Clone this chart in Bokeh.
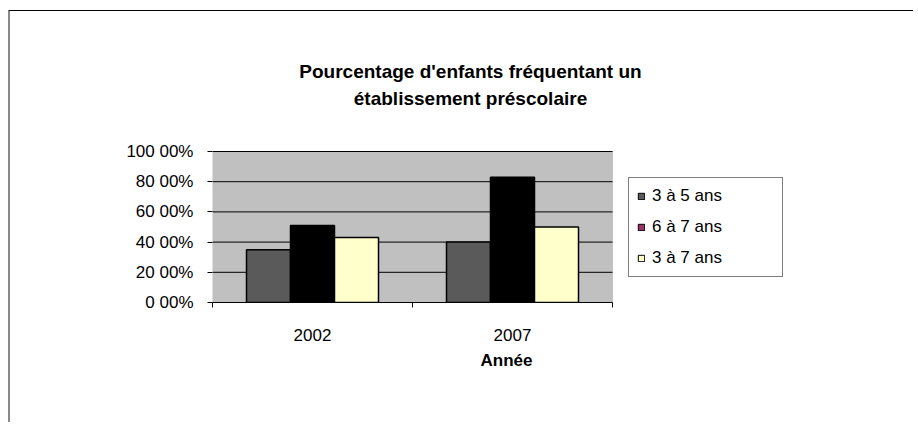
from bokeh.plotting import figure
from bokeh.models import Range1d, FixedTicker, Legend, LegendItem, Label, BoxAnnotation
from bokeh.embed import file_html
from bokeh.resources import INLINE

# ---- data ----
years = ["2002", "2007"]
series = ["3 à 5 ans", "6 à 7 ans", "3 à 7 ans"]
v_3_5 = [35, 40]
v_6_7 = [51, 83]
v_3_7 = [43, 50]
values = [v_3_5, v_6_7, v_3_7]
bar_colors = ["#5A5A5A", "#000000", "#FFFFCC"]
legend_colors = ["#5A5A5A", "#993366", "#FFFFCC"]
y_ticks = [0, 20, 40, 60, 80, 100]
y_tick_labels = ["0 00%", "20 00%", "40 00%", "60 00%", "80 00%", "100 00%"]
title_lines = ["Pourcentage d'enfants fréquentant un", "établissement préscolaire"]

FONT = "Liberation Sans"
FS = "17px"

# ---- layout (pixels) ----
W, H = 905, 412
LEFT, TOP = 202, 44
PLOT_W, PLOT_H = 400, 151          # grey plot area
FRAME_W, FRAME_H = 588, 247        # frame also holds title + legend
n = len(years)
y_max = max(y_ticks)
x_end = n * FRAME_W / PLOT_W
y_end = y_max * FRAME_H / PLOT_H

p = figure(width=W, height=H, output_backend="svg", toolbar_location=None,
           x_range=Range1d(0, x_end), y_range=Range1d(0, y_end),
           min_border_left=LEFT, min_border_right=W - LEFT - FRAME_W,
           min_border_top=TOP, min_border_bottom=H - TOP - FRAME_H)
p.styles = {"border-left": "2px solid #8a8a8a", "border-top": "1px solid #000000",
            "margin-left": "8px", "margin-top": "10px"}
p.title = None
p.background_fill_color = "white"
p.border_fill_color = "white"
p.outline_line_color = None

# grey plot area
p.add_layout(BoxAnnotation(left=0, right=n, bottom=0, top=y_max,
                           fill_color="#C0C0C0", fill_alpha=1,
                           line_color="#808080", line_width=1, level="underlay"))
# horizontal gridlines
p.segment(x0=[0] * (len(y_ticks) - 1), x1=[n] * (len(y_ticks) - 1),
          y0=y_ticks[1:], y1=y_ticks[1:], line_color="black", line_width=1)

# title (two centred lines)
for i, line in enumerate(title_lines):
    p.add_layout(Label(x=258, y=231 - 27 * i, x_units="screen", y_units="screen",
                       text=line, text_align="center", text_baseline="middle",
                       text_font=FONT, text_font_size="19px",
                       text_font_style="bold", text_color="black"))

# bars
width = 0.22
offsets = [-0.22, 0.0, 0.22]
for vals, col, off in zip(values, bar_colors, offsets):
    xs = [i + 0.5 + off for i in range(n)]
    p.vbar(x=xs, top=vals, width=width, bottom=0,
           fill_color=col, line_color="black", line_width=1.5)

# legend swatches (as drawn in the original legend)
items = []
for name, col, vals in zip(series, legend_colors, values):
    xs = [i + 0.5 for i in range(n)]
    r = p.vbar(x=xs, top=vals, width=width, fill_color=col,
               line_color="black", line_width=1, visible=False)
    items.append(LegendItem(label=name, renderers=[r]))
legend = Legend(items=items, location=(416, 25))
legend.label_text_font = FONT
legend.label_text_font_size = FS
legend.label_text_color = "black"
legend.glyph_width = 8
legend.glyph_height = 8
legend.label_standoff = 7
legend.spacing = 11
legend.padding = 8
legend.margin = 0
legend.label_width = 122
legend.border_line_color = "black"
legend.border_line_width = 1
legend.background_fill_color = "white"
legend.background_fill_alpha = 1
legend.inactive_fill_alpha = 0
p.add_layout(legend, "center")

# grid
p.xgrid.grid_line_color = None
p.ygrid.grid_line_color = None

# y axis
p.yaxis.ticker = FixedTicker(ticks=y_ticks)
p.yaxis.bounds = (0, y_max)
p.yaxis.major_label_overrides = {t: l for t, l in zip(y_ticks, y_tick_labels)}
p.yaxis.axis_line_color = None
p.yaxis.major_tick_line_color = "black"
p.yaxis.major_tick_out = 5
p.yaxis.major_tick_in = 0
p.yaxis.minor_tick_line_color = None
p.yaxis.major_label_standoff = 14
p.yaxis.major_label_text_font = FONT
p.yaxis.major_label_text_font_size = FS
p.yaxis.major_label_text_color = "black"

# x axis
centers = [i + 0.5 for i in range(n)]
bounds = list(range(n + 1))
p.xaxis.ticker = FixedTicker(ticks=centers, minor_ticks=bounds)
p.xaxis.bounds = (0, n)
p.xaxis.major_label_overrides = {c: y for c, y in zip(centers, years)}
p.xaxis.axis_line_color = "black"
p.xaxis.major_tick_line_color = None
p.xaxis.major_tick_out = 0
p.xaxis.major_tick_in = 0
p.xaxis.minor_tick_line_color = "black"
p.xaxis.minor_tick_out = 5
p.xaxis.minor_tick_in = 0
p.xaxis.major_label_standoff = 21
p.xaxis.major_label_text_font = FONT
p.xaxis.major_label_text_font_size = FS
p.xaxis.major_label_text_color = "black"
p.xaxis.axis_label = "Année"
p.xaxis.axis_label_text_font = FONT
p.xaxis.axis_label_text_font_size = FS
p.xaxis.axis_label_text_font_style = "bold"
p.xaxis.axis_label_text_color = "black"
p.xaxis.axis_label_standoff = 7

open("out.html", "w").write(file_html(p, INLINE))
